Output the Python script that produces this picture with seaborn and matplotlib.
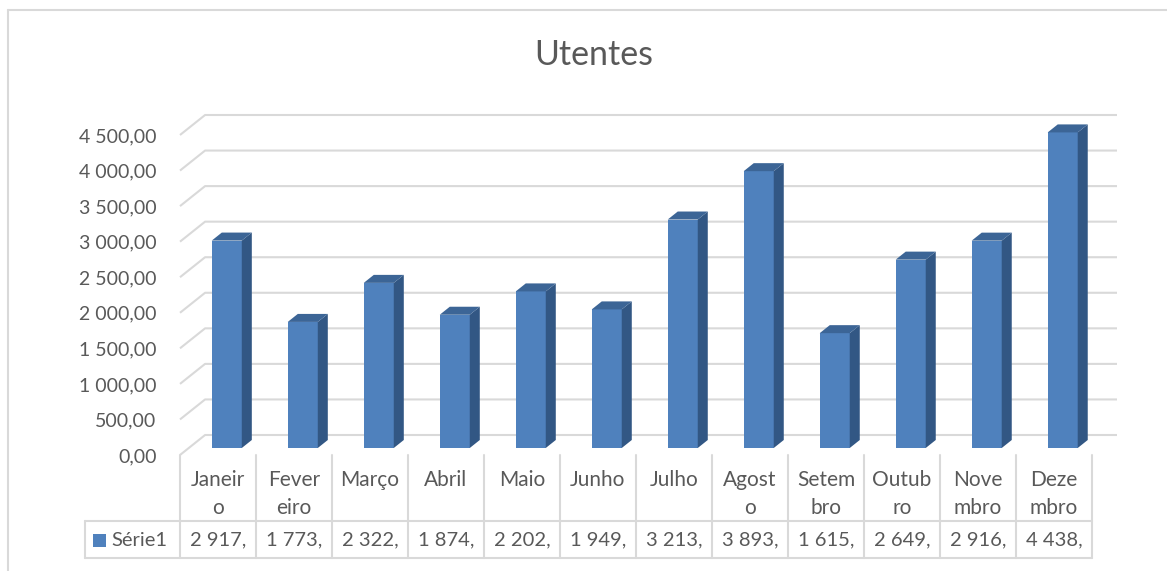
import matplotlib
matplotlib.use("Agg")
import numpy as np
import pandas as pd
import seaborn as sns
import matplotlib.pyplot as plt
import matplotlib.transforms as mtransforms
from matplotlib.patches import Polygon, Rectangle
from matplotlib.lines import Line2D

# ---------------- data ----------------
title = "Utentes"
series_name = "Série1"
months = ["Janeiro", "Fevereiro", "Março", "Abril", "Maio", "Junho",
          "Julho", "Agosto", "Setembro", "Outubro", "Novembro", "Dezembro"]
month_labels = ["Janeir\no", "Fever\neiro", "Março", "Abril", "Maio", "Junho",
                "Julho", "Agost\no", "Setem\nbro", "Outub\nro", "Nove\nmbro", "Deze\nmbro"]
values = [2917, 1773, 2322, 1874, 2202, 1949, 3213, 3893, 1615, 2649, 2916, 4438]
yticks = [0, 500, 1000, 1500, 2000, 2500, 3000, 3500, 4000, 4500]

# ---------------- style ----------------
FRONT = "#4F81BD"
SIDE = "#325784"
TOP = "#3C6596"
GRID = "#D9D9D9"
TEXT = "#595959"
W, H = 1167, 571

sns.set_theme(style="white")
plt.rcParams["font.family"] = ["Lato", "DejaVu Sans"]

fig = plt.figure(figsize=(W / 100, H / 100), dpi=100)
AX_L, AX_R, AX_T, AX_B = 180, 1117, 110, 455
ax = fig.add_axes([AX_L / W, 1 - AX_B / H, (AX_R - AX_L) / W, (AX_B - AX_T) / H])

# 3D depth (in data units): full floor depth
DX = 0.33
PX_PER_VAL = 320 / 4500.0
DY = 20 / PX_PER_VAL
D0 = 0.35   # bar front position in depth fraction
DB = 0.40   # bar depth fraction
BAR_W = 0.395

df = pd.DataFrame({"mes": months, "valor": values})
sns.barplot(data=df, x="mes", y="valor", color=FRONT, width=BAR_W, ax=ax,
            saturation=1, edgecolor="none", linewidth=0, zorder=3)

bars = list(ax.patches)
for p in bars:
    x0 = p.get_x() + D0 * DX
    y0 = D0 * DY
    w = p.get_width()
    h = p.get_height()
    p.set_x(x0)
    p.set_y(y0)
    ddx, ddy = DB * DX, DB * DY
    side = Polygon([(x0 + w, y0), (x0 + w + ddx, y0 + ddy),
                    (x0 + w + ddx, y0 + h + ddy), (x0 + w, y0 + h)],
                   closed=True, facecolor=SIDE, edgecolor="none", zorder=3)
    top = Polygon([(x0, y0 + h), (x0 + w, y0 + h),
                   (x0 + w + ddx, y0 + h + ddy), (x0 + ddx, y0 + h + ddy)],
                  closed=True, facecolor=TOP, edgecolor="none", zorder=3)
    ax.add_patch(side)
    ax.add_patch(top)

n = len(months)
xmin, xmax = -0.5, n - 0.5 + DX
ax.set_xlim(xmin, xmax)
ax.set_ylim(0, (AX_B - AX_T) / PX_PER_VAL)

# gridlines: slanted left wall segment + back wall line
for v in yticks:
    ax.plot([xmin, xmin + DX, xmax], [v, v + DY, v + DY], color=GRID,
            lw=1.5, zorder=1, clip_on=False, solid_capstyle="butt")

ax.set_yticks(yticks)
ax.set_yticklabels([f"{v:,.2f}".replace(",", " ").replace(".", ",") for v in yticks])
ax.tick_params(axis="y", length=0, pad=17, labelsize=14, labelcolor=TEXT)
ax.set_xticks([])
ax.set_xlabel("")
ax.set_ylabel("")
for s in ax.spines.values():
    s.set_visible(False)
ax.set_facecolor("none")

# ---------------- data table ----------------
trans = mtransforms.blended_transform_factory(ax.transData, fig.transFigure)
fy = lambda px: 1 - px / H
ppu = (AX_R - AX_L) / (xmax - xmin)
x_leg_left = xmin - (AX_L - 85) / ppu

TBL_TOP, TBL_MID, TBL_BOT = 455, 521, 558
for i in range(n + 1):
    fig.add_artist(Line2D([i - 0.5, i - 0.5], [fy(TBL_TOP), fy(TBL_BOT)],
                          transform=trans, color=GRID, lw=1.5))
for yy in (TBL_MID, TBL_BOT):
    fig.add_artist(Line2D([x_leg_left, n - 0.5], [fy(yy), fy(yy)],
                          transform=trans, color=GRID, lw=1.5))
fig.add_artist(Line2D([x_leg_left, x_leg_left], [fy(TBL_MID), fy(TBL_BOT)],
                      transform=trans, color=GRID, lw=1.5))

for i, lab in enumerate(month_labels):
    for j, line in enumerate(lab.split("\n")):
        fig.text(i, fy(480 + 28 * j), line, transform=trans, ha="center",
                 va="center", fontsize=15, color=TEXT)
for i, v in enumerate(values):
    fig.text(i, fy(540), f"{v:,}".replace(",", " ") + ",", transform=trans,
             ha="center", va="center", fontsize=14.5, color=TEXT)

fig.patches.append(Rectangle((93 / W, fy(547)), 13 / W, 13 / H,
                             transform=fig.transFigure, facecolor=FRONT,
                             edgecolor="none"))
fig.text(111 / W, fy(540), series_name, ha="left", va="center",
         fontsize=14.5, color=TEXT)

# ---------------- title & border ----------------
fig.text(594 / W, fy(55), title, ha="center", va="center", fontsize=24.5, color=TEXT)
fig.add_artist(Line2D([8 / W, 8 / W], [fy(10), 0], transform=fig.transFigure,
                      color=GRID, lw=1.5))
fig.add_artist(Line2D([8 / W, 1], [fy(10), fy(10)], transform=fig.transFigure,
                      color=GRID, lw=1.5))

fig.savefig("out.png", dpi=100, facecolor="white")
